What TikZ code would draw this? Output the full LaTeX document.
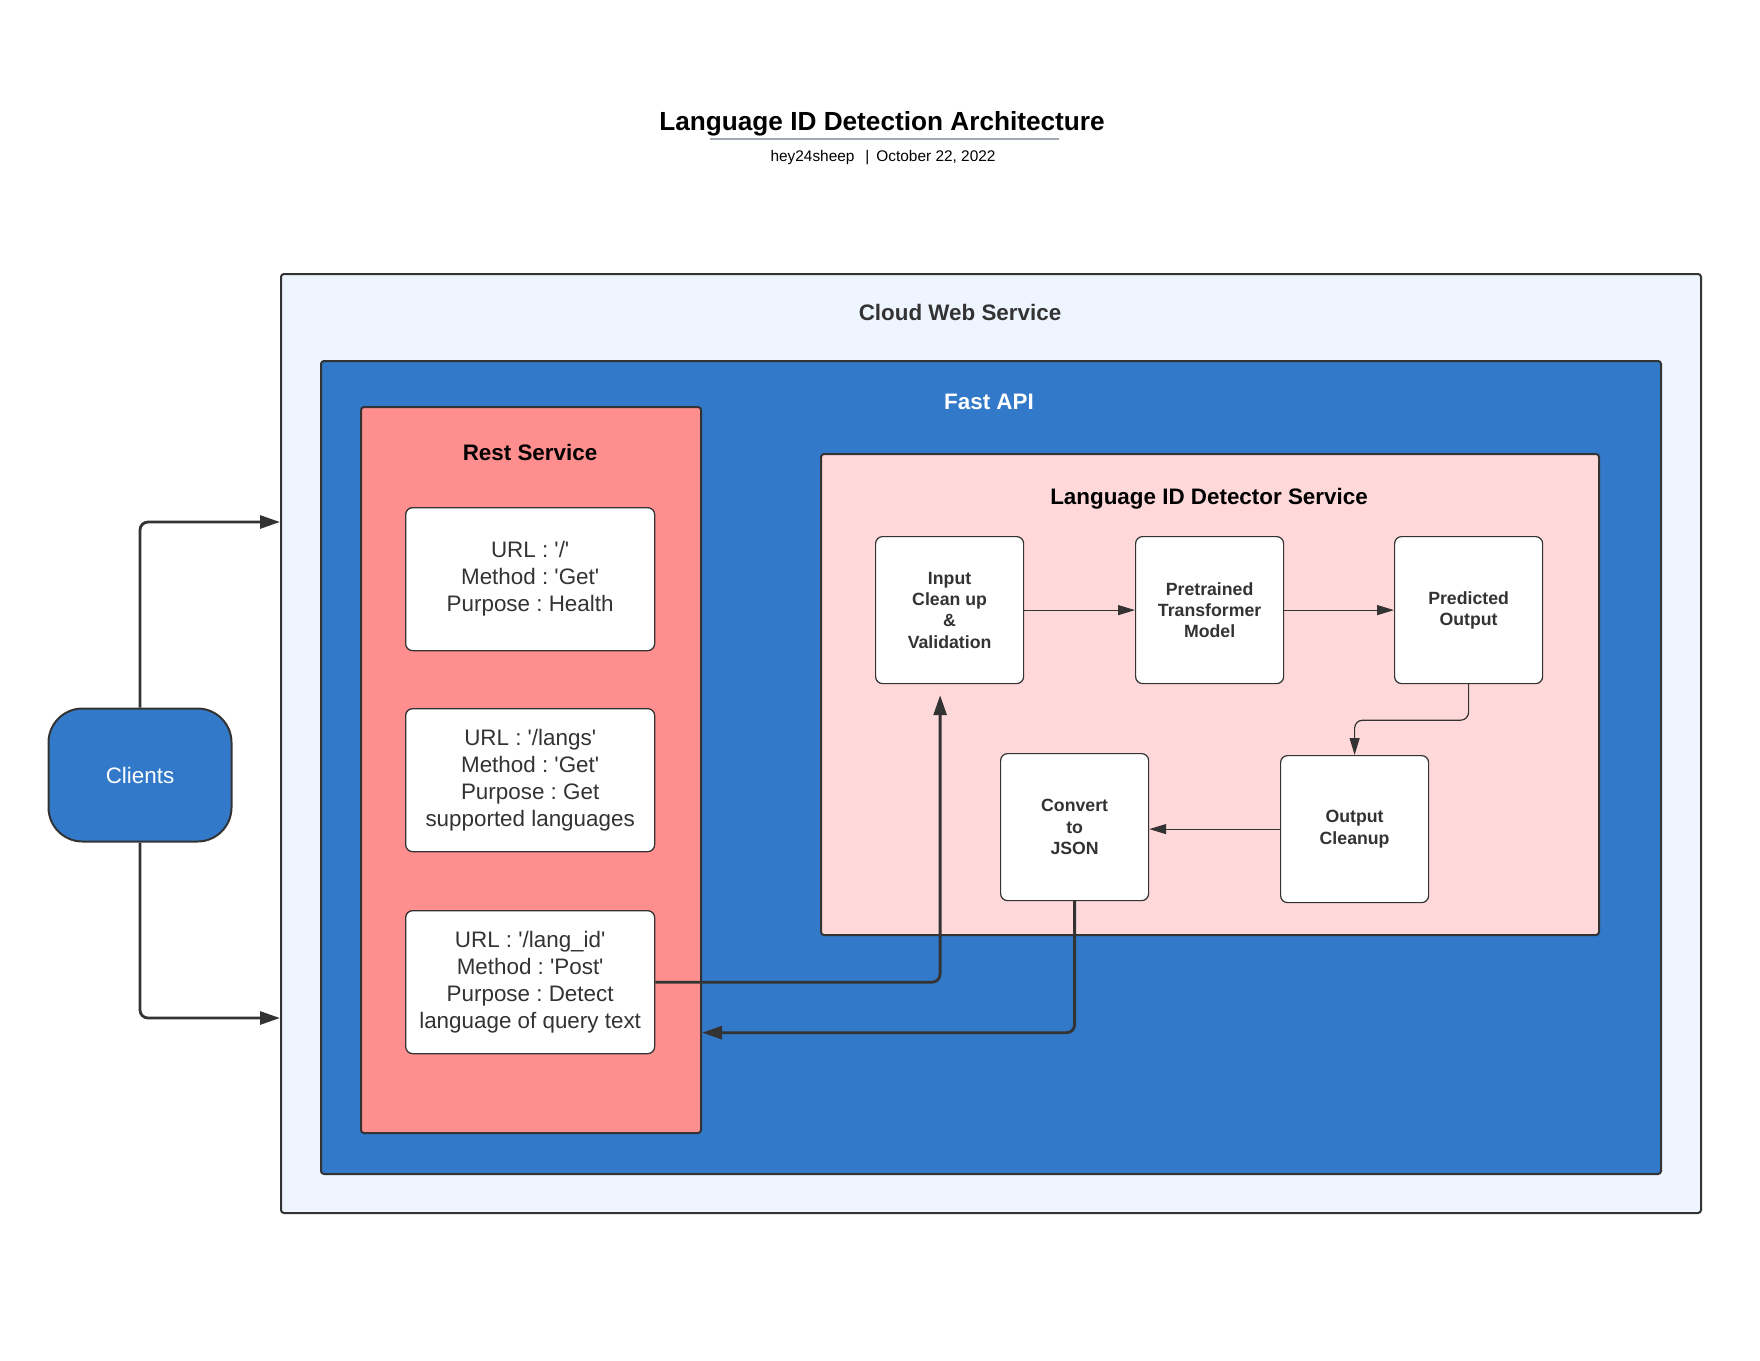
\documentclass[tikz,border=0pt]{standalone}
\usepackage{fontspec}
\setmainfont{Liberation Sans}
\usetikzlibrary{arrows.meta}

\definecolor{cloudfill}{HTML}{EEF5FE}
\definecolor{apiblue}{HTML}{3279C9}
\definecolor{restred}{HTML}{FF8F8F}
\definecolor{detpink}{HTML}{FFD8D9}
\definecolor{edge}{HTML}{333333}
\definecolor{rulegray}{HTML}{A3A9B5}

\newcommand{\sq}{\textquotesingle}

\begin{document}
\frenchspacing
\begin{tikzpicture}[x=1pt,y=-1pt,
        container/.style={draw=edge,line width=2pt,rounded corners=3pt,anchor=north west,inner sep=0pt},
        urlbox/.style={draw=edge,line width=1.3pt,fill=white,rounded corners=7pt,anchor=north west,
                minimum width=249pt,minimum height=143pt,align=center,text=edge,
                font=\fontsize{22.4}{27}\selectfont},
        stepbox/.style={draw=edge,line width=1.2pt,fill=white,rounded corners=7pt,anchor=north west,
                minimum width=148pt,minimum height=147pt,align=center,text=edge,
                font=\bfseries\fontsize{17.7}{21.3}\selectfont},
        heading/.style={text=edge,font=\bfseries\fontsize{22.4}{27}\selectfont},
        flow/.style={draw=edge,line width=2.8pt,rounded corners=8pt,-{Triangle[length=20pt,width=13pt]}},
        thinflow/.style={draw=edge,line width=1.2pt,rounded corners=8pt,-{Triangle[length=17pt,width=10pt]}}]

        \useasboundingbox (0,0) rectangle (1760,1360);

        % title and byline
        \node[font=\bfseries\fontsize{26.2}{30}\selectfont] (title) at (882,123.5) {Language ID Detection Architecture};
        \draw[rulegray,line width=2pt] (710,139) -- (1059,139);
        \node[font=\fontsize{15.4}{18}\selectfont] (byline) at (883,157.5) {hey24sheep\hspace{11pt}|\hspace{7pt}October 22, 2022};

        % nested service boxes
        \node[container,fill=cloudfill,minimum width=1420pt,minimum height=939pt] (cloud) at (280,273) {};
        \node[container,fill=apiblue,minimum width=1340pt,minimum height=813pt] (fastapi) at (320,360) {};
        \node[container,fill=restred,minimum width=340pt,minimum height=726pt] (rest) at (360,406) {};
        \node[container,fill=detpink,minimum width=778pt,minimum height=481pt] (detector) at (820,453) {};

        \node[heading] (cloudlabel) at (960,312) {Cloud Web Service};
        \node[heading,text=white] (fastapilabel) at (989,402) {Fast API};
        \node[heading,text=black] (restlabel) at (530,452.5) {Rest Service};
        \node[heading,text=black] (detectorlabel) at (1209,499) {Language ID Detector Service};

        % endpoints
        \node[urlbox] (health) at (405,507) {URL : \sq/\sq\\Method : \sq Get\sq\\Purpose : Health};
        \node[urlbox] (langs) at (405,708) {URL : \sq/langs\sq\\Method : \sq Get\sq\\Purpose : Get\\supported languages};
        \node[urlbox] (post) at (405,910) {URL : \sq/lang\_id\sq\\Method : \sq Post\sq\\Purpose : Detect\\language of query text};

        % detector steps
        \node[stepbox] (input) at (875,536) {Input\\Clean up\\\&\\Validation};
        \node[stepbox] (model) at (1135,536) {Pretrained\\Transformer\\Model};
        \node[stepbox] (predicted) at (1394,536) {Predicted\\Output};
        \node[stepbox] (convert) at (1000,753) {Convert\\to\\JSON};
        \node[stepbox] (cleanup) at (1280,755) {Output\\Cleanup};

        % clients
        \node[draw=edge,line width=2pt,fill=apiblue,rounded corners=34pt,minimum width=183pt,minimum height=133pt,
                text=white,font=\fontsize{22.4}{27}\selectfont] (clients) at (140,775) {Clients};
        \coordinate (cloudin) at (280,522);
        \coordinate (cloudout) at (280,1018);

        % connectors
        \draw[flow] (clients.north) |- (cloudin);
        \draw[flow] (clients.south) |- (cloudout);

        \draw[flow,shorten >=11pt] (post.east) -| ([xshift=-9.5pt]input.south);
        \draw[flow] (convert.south) |- ([yshift=-50.5pt]rest.east |- post.east);

        \draw[thinflow] (input.east) -- (model.west);
        \draw[thinflow] (model.east) -- (predicted.west);
        \draw[thinflow] (predicted.south) -- ++(0,36) -| (cleanup.north);
        \draw[thinflow] (cleanup.west) -- (convert.east |- cleanup.west);

\end{tikzpicture}
\end{document}
